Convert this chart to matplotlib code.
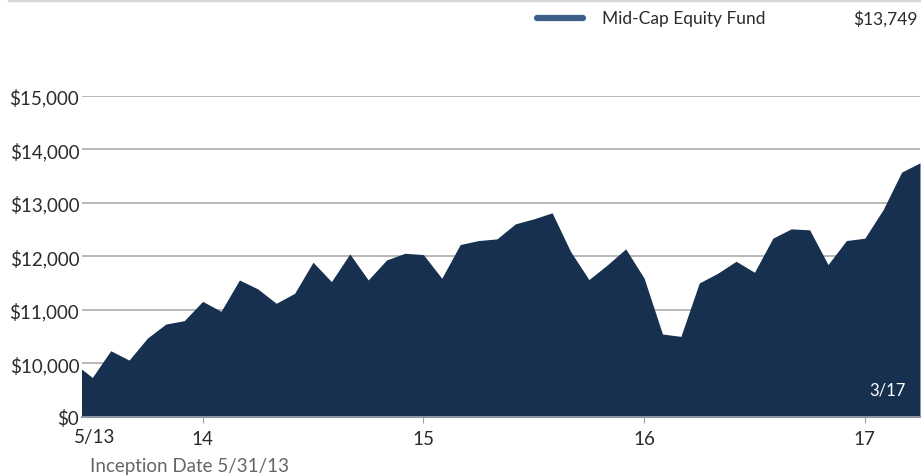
import numpy as np
import matplotlib.pyplot as plt

plt.rcParams['font.family'] = ['Lato', 'DejaVu Sans']

# month-end values, 5/31/13 .. 3/31/17
months = list(range(47))
values = [10000, 9731, 10231, 10056, 10469, 10731, 10794, 11156, 10969, 11556,
          11388, 11119, 11306, 11888, 11525, 12044, 11556, 11931, 12056, 12031,
          11588, 12219, 12294, 12325, 12606, 12700, 12813, 12090, 11563, 11838,
          12138, 11590, 10544, 10500, 11500, 11681, 11906, 11700, 12338, 12513,
          12494, 11844, 12294, 12338, 12875, 13575, 13749]

ytick_vals = [9000, 10000, 11000, 12000, 13000, 14000, 15000]
ytick_labels = ['$0', '$10,000', '$11,000', '$12,000', '$13,000', '$14,000', '$15,000']
xtick_vals = [7, 19, 31, 43]
xtick_labels = ['14', '15', '16', '17']

fund_name = 'Mid-Cap Equity Fund'
fund_end = '$13,749'

fill_col = '#17304f'
grid_col = '#b3b3b3'
text_col = '#2b2b2b'

fig = plt.figure(figsize=(9.21, 4.77), dpi=100)
ax = fig.add_axes([82/921, 1 - 417.5/477, (920 - 82)/921, (417.5 - 97)/477])

ax.fill_between(months, values, 9000, color=fill_col, lw=0, zorder=2)
ax.set_xlim(0.44, 46)
ax.set_ylim(9000, 15000)

for v in ytick_vals[1:]:
    ax.axhline(v, color=grid_col, lw=1.3, zorder=1)

for s in ['top', 'right', 'left']:
    ax.spines[s].set_visible(False)
ax.spines['bottom'].set_color('#8c96a3')
ax.spines['bottom'].set_linewidth(1.5)
ax.spines['bottom'].set_zorder(3)

ax.set_yticks(ytick_vals)
ax.set_yticklabels(ytick_labels, fontsize=13.5, color=text_col)
ax.tick_params(axis='y', length=0, pad=2)
ax.set_xticks(xtick_vals)
ax.set_xticklabels(xtick_labels, fontsize=13.5, color=text_col)
ax.tick_params(axis='x', length=4, color='#9aa3ad', pad=6)

ax.text(1.15, -0.062, '5/13', ha='center', va='center', fontsize=13.5, color=text_col,
        transform=ax.get_xaxis_transform())
ax.text(45.2, 9500, '3/17', ha='right', va='center', fontsize=12, color='white', zorder=4)

fig.text(90/921, 1 - 467/477, 'Inception Date 5/31/13', ha='left', va='center',
         fontsize=13.5, color='#666666')

# legend row
fig.add_artist(plt.Line2D([537/921, 583/921], [1 - 19/477, 1 - 19/477],
                          color='#3d5f86', lw=4.5, solid_capstyle='round'))
fig.text(602/921, 1 - 19/477, fund_name, ha='left', va='center', fontsize=12.5, color=text_col)
fig.text(918/921, 1 - 19/477, fund_end, ha='right', va='center', fontsize=12.5, color=text_col)

# top rule
fig.add_artist(plt.Line2D([9/921, 1], [1 - 1/477, 1 - 1/477], color='#d6d6d6', lw=2.5))

fig.savefig('out.png', dpi=100)
